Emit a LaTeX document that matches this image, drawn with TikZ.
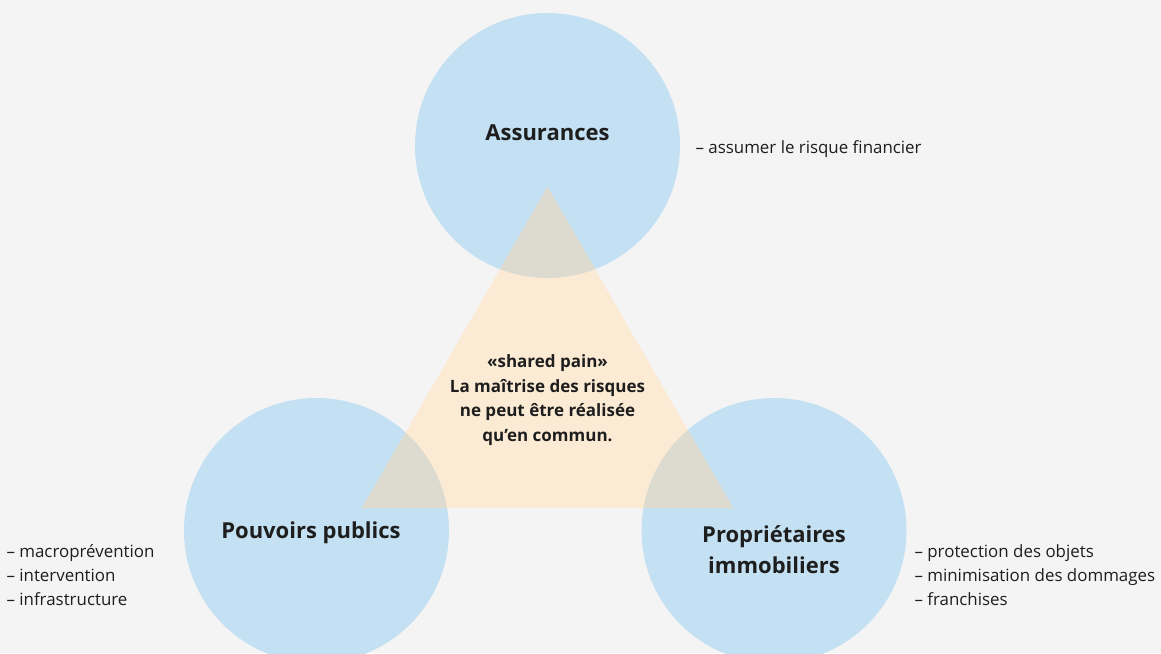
\documentclass[tikz,border=0pt]{standalone}
\usepackage{fontspec}
\setmainfont{Open Sans}
\usepackage{tikz}
\usetikzlibrary{positioning}

\definecolor{bgcol}{HTML}{F4F4F4}
\definecolor{bluecol}{HTML}{C4E1F3}
\definecolor{peachcol}{HTML}{FCEBD4}
\definecolor{mixcol}{HTML}{DDDBD0}
\definecolor{txtcol}{HTML}{1E1E1E}

\begin{document}
\begin{tikzpicture}[x=1pt,y=-1pt,
        actor/.style={font=\bfseries\fontsize{22}{31}\selectfont,text=txtcol,align=center},
        duty/.style={font=\fontsize{16.9}{24}\selectfont,text=txtcol,align=left,anchor=west},
        core/.style={font=\bfseries\fontsize{17}{24.5}\selectfont,text=txtcol,align=center}]
        % background and frame
        \fill[bgcol] (0,0) rectangle (1161,653);
        \useasboundingbox (0,0) rectangle (1161,653);
        \coordinate (c_ass) at (547.5,145.5);
        \coordinate (c_pub) at (316.5,530.5);
        \coordinate (c_imm) at (774,530.5);
        \coordinate (t_top) at (547.5,187);
        \coordinate (t_l) at (362,508);
        \coordinate (t_r) at (733,508);
        % circles and triangle
        \foreach \c in {c_ass,c_pub,c_imm}
                \fill[bluecol] (\c) circle[radius=132.5pt];
        \fill[peachcol] (t_top) -- (t_l) -- (t_r) -- cycle;
        \begin{scope}
                \clip (t_top) -- (t_l) -- (t_r) -- cycle;
                \foreach \c in {c_ass,c_pub,c_imm}
                        \fill[mixcol] (\c) circle[radius=132.5pt];
        \end{scope}
        % labels
        \node[actor] (ass) at (547.5,133) {Assurances};
        \node[actor] (pub) at (311,533) {Pouvoirs publics};
        \node[actor] (imm) at (774,550) {Propriétaires\\immobiliers};
        \node[core] (pain) at (547.5,400) {«shared pain»\\La maîtrise des risques\\ne peut être réalisée\\qu’en commun.};
        \node[duty] (d_ass) at (692,149) {– assumer le risque financier};
        \node[duty] (d_pub) at (3,575) {– macroprévention\\– intervention\\– infrastructure};
        \node[duty] (d_imm) at (911,575) {– protection des objets\\– minimisation des dommages\\– franchises};
\end{tikzpicture}
\end{document}
